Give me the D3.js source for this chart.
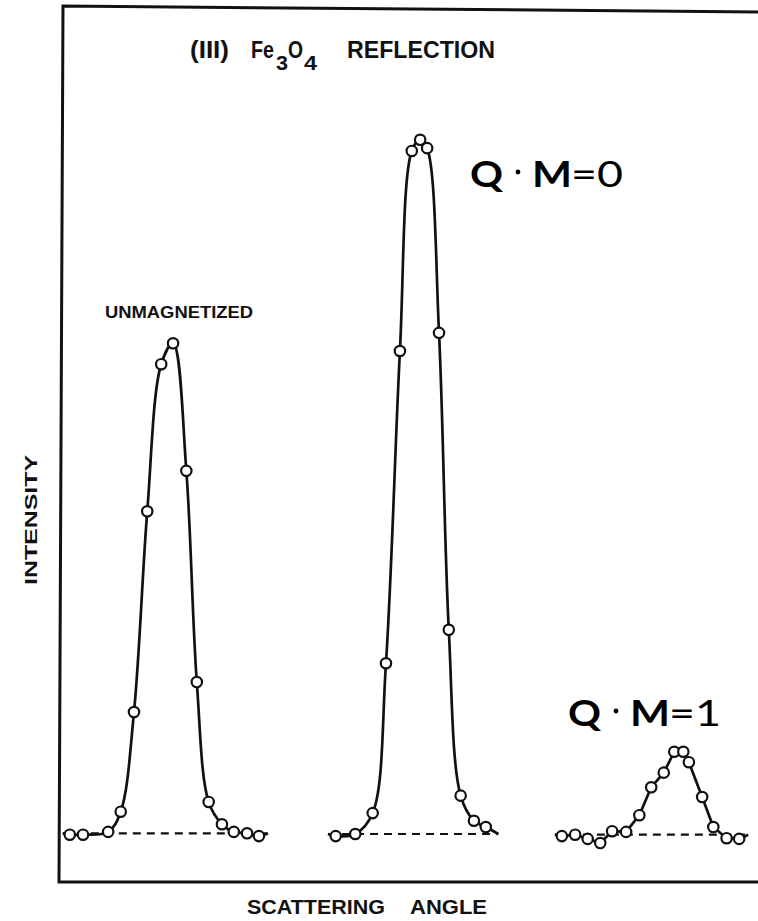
<!DOCTYPE html>
<html>
<head>
<meta charset="utf-8">
<script src="https://cdn.jsdelivr.net/npm/d3@7"></script>
<style>
  html, body { margin: 0; padding: 0; background: #fff; }
  svg { display: block; }
</style>
</head>
<body>
<svg id="chart" width="758" height="921"></svg>
<script>
// Scattering angle (arbitrary units) and measured intensity for the three scans
const unmagAngle = [1.4, 3.3, 6.9, 8.7, 10.6, 12.5, 14.5, 16.2, 18.1, 19.6, 21.3, 23.2, 24.9, 26.8, 28.5];
const unmagIntensity = [-0.1, -0.1, 0.3, 3.2, 17.5, 46.3, 67.4, 70.4, 52.1, 21.8, 4.6, 1.4, 0.3, 0.1, -0.3];

const qm0Angle = [39.5, 42.3, 44.8, 46.7, 48.7, 50.4, 51.6, 52.6, 54.3, 55.7, 57.4, 59.3, 61.0];
const qm0Intensity = [-0.3, 0.0, 3.0, 24.5, 69.3, 98.0, 99.6, 98.4, 71.9, 29.3, 5.5, 1.9, 1.0];

const qm1Angle = [71.9, 73.8, 75.6, 77.4, 79.1, 81.1, 83.0, 84.7, 86.5, 88.0, 89.3, 90.1, 92.0, 93.6, 95.5, 97.3];
const qm1Intensity = [-0.3, -0.1, -0.7, -1.3, 0.4, 0.3, 2.7, 6.7, 8.8, 11.8, 11.8, 10.3, 5.3, 1.0, -0.6, -0.7];

// Angular extent of each scan and its background level
const scanRanges = [[0.4, 29.8], [38.4, 62.8], [70.9, 98.6]];
const backgroundLevels = [0.1, 0.0, -0.1];

// Text
const titleParts = ["(III)", "Fe", "3", "O", "4", "REFLECTION"];
const scanLabel = "UNMAGNETIZED";
const yAxisLabel = "INTENSITY";
const xAxisWords = ["SCATTERING", "ANGLE"];
const qmValues = ["0", "1"];

const scans = [
  { angle: unmagAngle, intensity: unmagIntensity, curve: d3.curveCatmullRom.alpha(0.5) },
  { angle: qm0Angle, intensity: qm0Intensity, curve: d3.curveCatmullRom.alpha(0.5) },
  { angle: qm1Angle, intensity: qm1Intensity, curve: d3.curveLinear }
];

const svg = d3.select("#chart");
const x = d3.scaleLinear().domain([0, 100]).range([60, 758]);
const y = d3.scaleLinear().domain([0, 100]).range([834, 137]);

const ink = "#111";
const figFont = "'Liberation Sans', Arial, sans-serif";

// Plot frame (open on the right)
svg.append("path")
  .attr("d", "M758,12 L63,6 L59,882 L758,882")
  .attr("fill", "none")
  .attr("stroke", ink)
  .attr("stroke-width", 3)
  .attr("stroke-linejoin", "miter");

// Background (dashed) lines
svg.selectAll("line.bg")
  .data(scanRanges)
  .join("line")
  .attr("class", "bg")
  .attr("x1", d => x(d[0]))
  .attr("x2", d => x(d[1]))
  .attr("y1", (d, i) => y(backgroundLevels[i]))
  .attr("y2", (d, i) => y(backgroundLevels[i]))
  .attr("stroke", ink)
  .attr("stroke-width", 2.2)
  .attr("stroke-dasharray", "8,6");

// Fitted curves and measured points
scans.forEach((s, i) => {
  const pts = s.angle.map((a, k) => [a, s.intensity[k]]);
  const full = [[scanRanges[i][0], backgroundLevels[i]], ...pts, [scanRanges[i][1], backgroundLevels[i]]];
  const line = d3.line().x(d => x(d[0])).y(d => y(d[1])).curve(s.curve);
  svg.append("path")
    .attr("d", line(full))
    .attr("fill", "none")
    .attr("stroke", ink)
    .attr("stroke-width", 2.7)
    .attr("stroke-linejoin", "round");
  svg.append("g")
    .selectAll("circle")
    .data(pts)
    .join("circle")
    .attr("cx", d => x(d[0]))
    .attr("cy", d => y(d[1]))
    .attr("r", 5.2)
    .attr("fill", "#fff")
    .attr("stroke", ink)
    .attr("stroke-width", 2.2);
});

// Helper: text squeezed or stretched to a fixed width
function fitText(txt, xPos, yPos, size, width, weight, family) {
  return svg.append("text")
    .attr("x", xPos)
    .attr("y", yPos)
    .attr("font-family", family || figFont)
    .attr("font-size", size)
    .attr("font-weight", weight || 700)
    .attr("fill", ink)
    .attr("textLength", width)
    .attr("lengthAdjust", "spacingAndGlyphs")
    .text(txt);
}

// Title: (III) Fe3O4 REFLECTION
fitText(titleParts[0], 190, 58, 23, 39);
fitText(titleParts[1], 251, 58, 23, 23);
fitText(titleParts[2], 276, 70, 21, 12);
fitText(titleParts[3], 288, 58, 23, 15);
fitText(titleParts[4], 304, 70, 21, 13);
fitText(titleParts[5], 347, 58, 23, 148);

// Scan label
fitText(scanLabel, 105, 318, 16, 148);

// Axis labels
svg.append("text")
  .attr("transform", "translate(37,585) rotate(-90)")
  .attr("font-family", figFont)
  .attr("font-size", 16)
  .attr("font-weight", 700)
  .attr("fill", ink)
  .attr("textLength", 130)
  .attr("lengthAdjust", "spacingAndGlyphs")
  .text(yAxisLabel);
fitText(xAxisWords[0], 247, 914, 20, 138);
fitText(xAxisWords[1], 410, 914, 20, 77);

// Q·M labels
const qmFont = "Lato, 'Open Sans', sans-serif";
const qmPos = [[470, 187], [568, 726]];
qmValues.forEach((v, i) => {
  const [x0, yb] = qmPos[i];
  fitText("Q", x0, yb, 36, 33, 700, qmFont).attr("fill", "#000");
  svg.append("circle").attr("cx", x0 + 48).attr("cy", yb - 15).attr("r", 2.4).attr("fill", "#000");
  fitText("M", x0 + 62, yb, 36, 40, 700, qmFont).attr("fill", "#000");
  fitText("=" + v, x0 + 101, yb, 36, 52, 400, qmFont).attr("fill", "#000");
});
</script>
</body>
</html>
